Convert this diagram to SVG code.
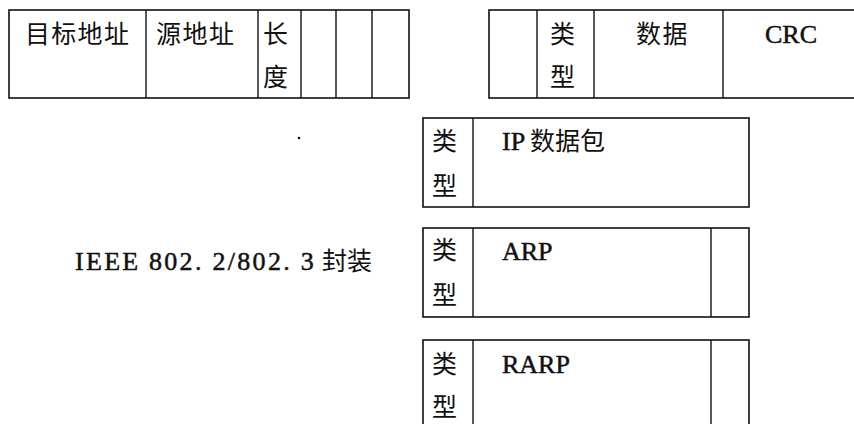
<svg xmlns="http://www.w3.org/2000/svg" width="854" height="424" viewBox="0 0 854 424">
<style>
  .box { fill: #fff; stroke: #111; stroke-width: 1.6; }
  .div { stroke: #111; stroke-width: 1.4; }
  .cjk { font-family: "Noto Sans CJK SC", "Noto Sans CJK TC", sans-serif; font-size: 25px; fill: #111; stroke: none; }
  .lat { font-family: "Liberation Serif", "Noto Sans CJK SC", serif; font-size: 26px; fill: #111; stroke: #111; stroke-width: 0.5; }
</style>
<rect width="854" height="424" fill="#fff"/>

<g id="ethernet-frame-left">
  <rect class="box" x="9" y="10" width="400" height="88"/>
  <line class="div" x1="146" y1="10" x2="146" y2="98"/>
  <line class="div" x1="258" y1="10" x2="258" y2="98"/>
  <line class="div" x1="301" y1="10" x2="301" y2="98"/>
  <line class="div" x1="336" y1="10" x2="336" y2="98"/>
  <line class="div" x1="372" y1="10" x2="372" y2="98"/>
  <text class="cjk" x="25" y="43" letter-spacing="1.3">目标地址</text>
  <text class="cjk" x="156" y="43" letter-spacing="1.5">源地址</text>
  <text class="cjk" x="263" y="43">长</text>
  <text class="cjk" x="263" y="86">度</text>
</g>

<g id="ethernet-frame-right">
  <rect class="box" x="489" y="10" width="390" height="88"/>
  <line class="div" x1="537" y1="10" x2="537" y2="98"/>
  <line class="div" x1="594" y1="10" x2="594" y2="98"/>
  <line class="div" x1="723" y1="10" x2="723" y2="98"/>
  <text class="cjk" x="550" y="43">类</text>
  <text class="cjk" x="550" y="86">型</text>
  <text class="cjk" x="636" y="43" letter-spacing="1.5">数据</text>
  <text class="lat" x="765" y="43">CRC</text>
</g>

<g id="ip-datagram">
  <rect class="box" x="423" y="118" width="326" height="89"/>
  <line class="div" x1="473" y1="118" x2="473" y2="207"/>
  <text class="cjk" x="432" y="150">类</text>
  <text class="cjk" x="432" y="195">型</text>
  <text class="lat" x="502" y="150">IP<tspan class="cjk" x="530">数据包</tspan></text>
</g>

<g id="ieee-label">
  <text class="lat" y="270" font-size="25" letter-spacing="2.3"><tspan x="75">IEEE </tspan><tspan x="149">802. 2/802. 3 </tspan><tspan class="cjk" x="322" letter-spacing="0">封装</tspan></text>
</g>

<g id="arp">
  <rect class="box" x="423" y="228" width="326" height="89"/>
  <line class="div" x1="473" y1="228" x2="473" y2="317"/>
  <line class="div" x1="711" y1="228" x2="711" y2="317"/>
  <text class="cjk" x="432" y="259">类</text>
  <text class="cjk" x="432" y="304">型</text>
  <text class="lat" x="502" y="260">ARP</text>
</g>

<g id="rarp">
  <rect class="box" x="423" y="340" width="326" height="100"/>
  <line class="div" x1="473" y1="340" x2="473" y2="440"/>
  <line class="div" x1="711" y1="340" x2="711" y2="440"/>
  <text class="cjk" x="432" y="373">类</text>
  <text class="cjk" x="432" y="416">型</text>
  <text class="lat" x="502" y="373">RARP</text>
</g>

<g id="connectors"></g>

<circle cx="299" cy="138" r="1.3" fill="#111"/>
</svg>
